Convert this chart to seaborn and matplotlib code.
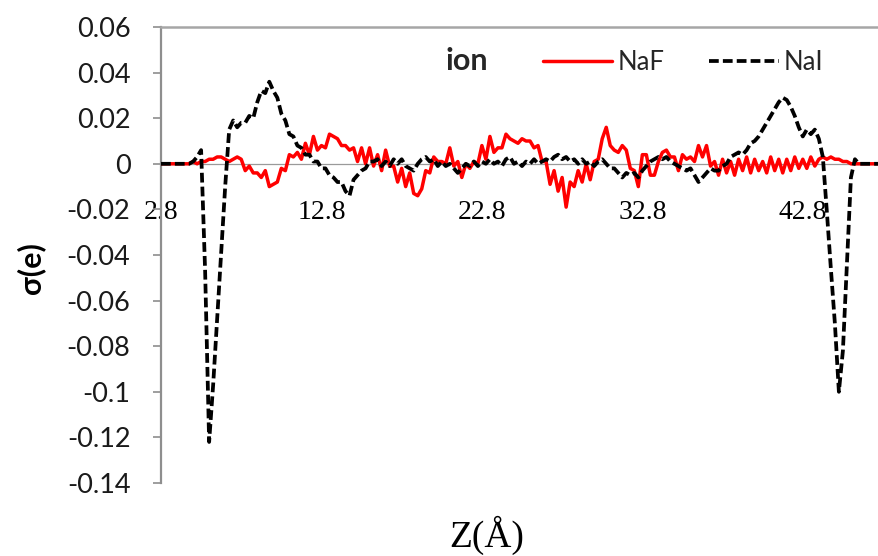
import numpy as np
import matplotlib
matplotlib.use("Agg")
import matplotlib.pyplot as plt
import seaborn as sns
from matplotlib.lines import Line2D

# Position along the slab normal (Å), sampled every 0.25 Å
z_start, z_step, n_points = 2.8, 0.25, 180
z = np.round(z_start + z_step * np.arange(n_points), 2)

# Surface charge density sigma(e) for the two salts
naf = [
    0, 0, 0, 0, 0, 0, 0, 0.000, 0.001, 0.000,
    0.001, 0.001, 0.002, 0.002, 0.003, 0.003, 0.002, 0.001, 0.002, 0.003,
    0.002, -0.003, -0.001, -0.004, -0.004, -0.006, -0.003, -0.010, -0.009, -0.008,
    -0.002, -0.003, 0.004, 0.003, 0.005, 0.002, 0.009, 0.004, 0.012, 0.006,
    0.008, 0.007, 0.013, 0.012, 0.011, 0.008, 0.008, 0.006, 0.007, 0.001,
    0.007, 0.000, 0.007, -0.001, 0.004, -0.003, 0.006, -0.001, -0.001, -0.008,
    -0.002, -0.010, -0.004, -0.013, -0.014, -0.011, -0.003, -0.004, 0.003, 0.001,
    0.001, 0.000, 0.007, -0.001, 0.001, -0.006, 0.000, -0.002, 0.001, 0.000,
    0.008, 0.002, 0.012, 0.005, 0.007, 0.007, 0.013, 0.011, 0.010, 0.009,
    0.011, 0.010, 0.010, 0.007, 0.008, 0.001, 0.001, -0.009, -0.003, -0.012,
    -0.006, -0.019, -0.008, -0.010, -0.003, -0.008, 0.000, -0.007, 0.001, 0.002,
    0.011, 0.016, 0.008, 0.006, 0.005, 0.008, 0.006, -0.002, -0.003, -0.010,
    0.004, 0.004, -0.005, -0.005, 0.001, 0.005, 0.006, 0.003, 0.003, -0.003,
    0.004, 0.002, 0.003, 0.001, 0.008, 0.003, 0.008, -0.001, 0.001, -0.005,
    0.002, -0.004, 0.001, -0.005, 0.002, -0.003, 0.003, -0.004, 0.002, -0.003,
    0.001, -0.004, 0.003, -0.003, 0.002, -0.004, 0.002, -0.003, 0.003, -0.002,
    0.002, -0.002, 0.003, -0.001, 0.002, 0.003, 0.002, 0.003, 0.002, 0.002,
    0.001, 0.001, 0.000, 0, 0, 0, 0, 0, 0, 0,
]

nai = [
    0, 0, 0, 0, 0, 0, 0, 0, 0.001, 0.003,
    0.006, -0.047, -0.122, -0.097, -0.068, -0.039, -0.010, 0.015, 0.019, 0.016,
    0.018, 0.018, 0.021, 0.020, 0.027, 0.032, 0.031, 0.036, 0.032, 0.029,
    0.022, 0.019, 0.013, 0.012, 0.008, 0.007, 0.004, 0.004, 0.001, 0.001,
    -0.002, -0.002, -0.005, -0.006, -0.008, -0.008, -0.012, -0.014, -0.007, -0.005,
    -0.003, -0.002, 0.001, 0.001, 0.002, -0.001, 0.001, -0.001, 0.002, 0.000,
    0.002, -0.001, -0.002, -0.003, 0.000, 0.002, 0.003, 0.001, 0.002, -0.001,
    0.001, -0.001, 0.000, -0.002, -0.004, -0.002, 0.000, -0.001, 0.001, -0.001,
    0.001, 0.000, 0.002, 0.000, 0.001, -0.001, 0.002, 0.003, 0.000, 0.001,
    -0.001, 0.001, 0.000, 0.002, 0.000, 0.001, 0.002, 0.001, 0.003, 0.004,
    0.002, 0.003, 0.001, 0.002, 0.000, 0.002, 0.000, 0.001, -0.001, 0.001,
    0.002, 0.000, -0.002, -0.002, -0.004, -0.006, -0.004, -0.005, -0.004, -0.006,
    -0.003, -0.001, 0.001, 0.002, 0.003, 0.002, 0.003, 0.001, 0.000, -0.001,
    -0.002, -0.003, -0.002, -0.005, -0.008, -0.006, -0.004, -0.002, -0.003, -0.003,
    -0.001, 0.000, 0.003, 0.004, 0.005, 0.004, 0.006, 0.009, 0.010, 0.012,
    0.015, 0.018, 0.021, 0.024, 0.027, 0.029, 0.028, 0.025, 0.021, 0.016,
    0.012, 0.015, 0.013, 0.015, 0.011, 0.003, -0.021, -0.046, -0.070, -0.100,
    -0.082, -0.044, -0.006, 0.002, 0, 0, 0, 0, 0, 0,
]

x_ticks = [2.8, 12.8, 22.8, 32.8, 42.8]
x_tick_labels = ["2.8", "12.8", "22.8", "32.8", "42.8"]
y_ticks = [0.06, 0.04, 0.02, 0, -0.02, -0.04, -0.06, -0.08, -0.1, -0.12, -0.14]
y_tick_labels = ["0.06", "0.04", "0.02", "0", "-0.02", "-0.04", "-0.06",
                 "-0.08", "-0.1", "-0.12", "-0.14"]
series_names = ["NaF", "NaI"]

sns.set_theme(style="white")
plt.rcParams["font.family"] = ["Lato", "DejaVu Sans"]

W, H = 879, 556
fig = plt.figure(figsize=(W / 100, H / 100), dpi=100)
ax = fig.add_axes([161 / W, 1 - 483 / H, 1 - 161 / W, (483 - 27) / H])

red = "#FF0000"
dash = (0, (2.6, 1.1))
sns.lineplot(x=z, y=naf, color=red, lw=2.5, ax=ax, zorder=3)
sns.lineplot(x=z, y=nai, color="black", lw=2.7, ax=ax, zorder=4)
ax.lines[-1].set_linestyle(dash)

ax.set_xlim(2.8, 47.55)
ax.set_ylim(-0.14, 0.06)

axis_gray = "#8E8E8E"
ax.spines["left"].set_color(axis_gray)
ax.spines["left"].set_linewidth(1.6)
ax.spines["top"].set_color("#A6A6A6")
ax.spines["top"].set_linewidth(1.8)
ax.spines["right"].set_visible(False)
ax.spines["bottom"].set_position(("data", 0))
ax.spines["bottom"].set_color("#9A9A9A")
ax.spines["bottom"].set_linewidth(0.9)
ax.spines["bottom"].set_zorder(1)

ax.set_xticks(x_ticks)
ax.set_xticklabels(x_tick_labels, fontfamily="Liberation Serif", fontsize=20, color="black")
ax.tick_params(axis="x", length=0, pad=26)

ax.set_yticks(y_ticks)
ax.set_yticklabels(y_tick_labels, fontsize=19.5, color="#1a1a1a")
ax.tick_params(axis="y", direction="out", length=6, width=1.2, color=axis_gray, pad=16, left=True)

ax.set_xlabel("")
ax.set_ylabel("")
fig.text(31 / W, 1 - 268 / H, "σ(e)", rotation=90, fontsize=22, fontweight="bold",
         ha="center", va="center", color="black")
fig.text(487 / W, 1 - 535 / H, "Z(Å)", fontfamily="Liberation Serif", fontsize=27,
         ha="center", va="center", color="black")

# Legend: bold group title followed by the two series
fig.text(467 / W, 1 - 61 / H, "ion", fontsize=22, fontweight="bold", ha="center", va="center")
handles = [Line2D([], [], color=red, lw=2.5),
           Line2D([], [], color="black", lw=2.7, linestyle=dash)]
ax.legend(handles, series_names, ncol=2, loc="center left",
          bbox_to_anchor=(543 / W, 1 - 62 / H), bbox_transform=fig.transFigure,
          frameon=False, handlelength=2.7, handletextpad=0.2, columnspacing=1.75,
          borderpad=0, borderaxespad=0, prop={"family": "Lato", "size": 18.5})

fig.savefig("out.png", dpi=100, facecolor="white")
